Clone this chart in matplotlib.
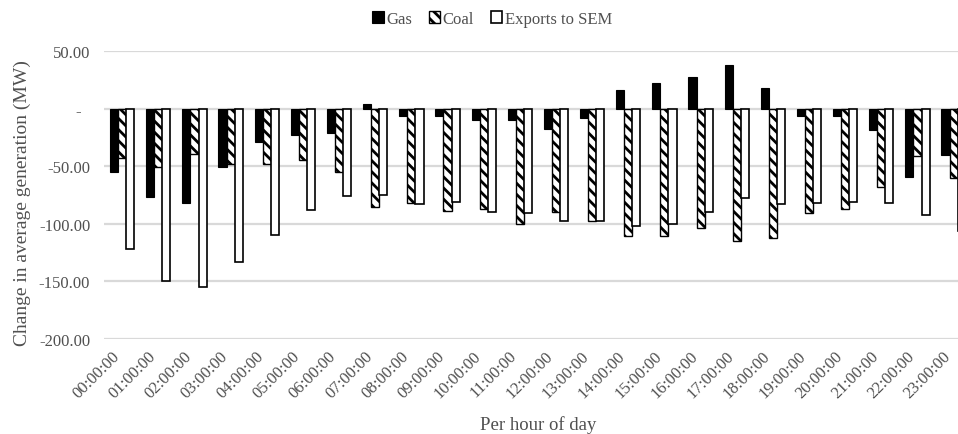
import numpy as np
import matplotlib
matplotlib.use("Agg")
import matplotlib.pyplot as plt
from matplotlib.transforms import ScaledTranslation

# datos
horas = ["%02d:00:00" % h for h in range(24)]
gas = [-55, -77, -82, -51, -29, -23, -21, 4, -6, -6, -10, -10,
       -18, -8, 16, 22, 27, 38, 18, -6, -6, -19, -59, -40]
coal = [-43, -51, -39, -48, -48, -45, -55, -85, -82, -89, -87, -100,
        -90, -98, -111, -111, -104, -115, -112, -91, -87, -68, -41, -60]
exports = [-122, -150, -155, -133, -110, -88, -76, -75, -83, -81, -90, -91,
           -98, -98, -102, -100, -90, -78, -83, -82, -81, -82, -92, -106]

plt.rcParams['font.family'] = ['Liberation Serif', 'DejaVu Serif']
gris = '#505050'
plt.rcParams['hatch.linewidth'] = 2.0

fig = plt.figure(figsize=(9.58, 4.35), dpi=100)
# el area de dibujo se sale por la derecha, como en la imagen original
paso = 36.15
ax = fig.add_axes([(122.2 - paso/2)/958, 95/435, 24*paso/958, 288/435])

x = np.arange(len(horas))
w = 8.1/paso
ax.bar(x - w, gas, w, color='black', edgecolor='black', linewidth=0.8, label='Gas', zorder=3)
ax.bar(x, coal, w, color='white', edgecolor='black', hatch='\\\\\\', linewidth=1.0, label='Coal', zorder=3)
ax.bar(x + w, exports, w, color='white', edgecolor='black', linewidth=1.2, label='Exports to SEM', zorder=3)

ax.set_xlim(-0.5, len(horas) - 0.5)
ax.set_ylim(-200, 50)
ax.set_yticks([-200, -150, -100, -50, 0, 50])
ax.set_yticklabels(['-200.00', '-150.00', '-100.00', '-50.00', '-  ', '50.00'])
ax.yaxis.grid(True, color='#d9d9d9', linewidth=1.6, zorder=0)
ax.set_axisbelow(True)
for s in ax.spines.values():
    s.set_visible(False)
ax.tick_params(axis='both', length=0, colors=gris, labelsize=12)
ax.tick_params(axis='y', pad=10)
ax.tick_params(axis='x', pad=6)
ax.set_xticks(x)
ax.set_xticklabels(horas, rotation=45, ha='right', rotation_mode='anchor')
desp = ScaledTranslation(-11/100, 0, fig.dpi_scale_trans)
for lbl in ax.get_xticklabels():
    lbl.set_transform(lbl.get_transform() + desp)

fig.text(22/958, 1 - 203/435, 'Change in average generation (MW)', rotation=90,
         ha='center', va='center', fontsize=14, color=gris)
fig.text(538/958, 1 - 425/435, 'Per hour of day', ha='center', va='center',
         fontsize=13.5, color=gris)

leg = fig.legend(loc='center', bbox_to_anchor=(492/958, 1 - 20/435), ncol=3, frameon=False,
                 fontsize=12, handlelength=0.7, handleheight=0.7, handletextpad=0.15,
                 columnspacing=1.0)
for t in leg.get_texts():
    t.set_color(gris)

fig.savefig('out.png', dpi=100)
